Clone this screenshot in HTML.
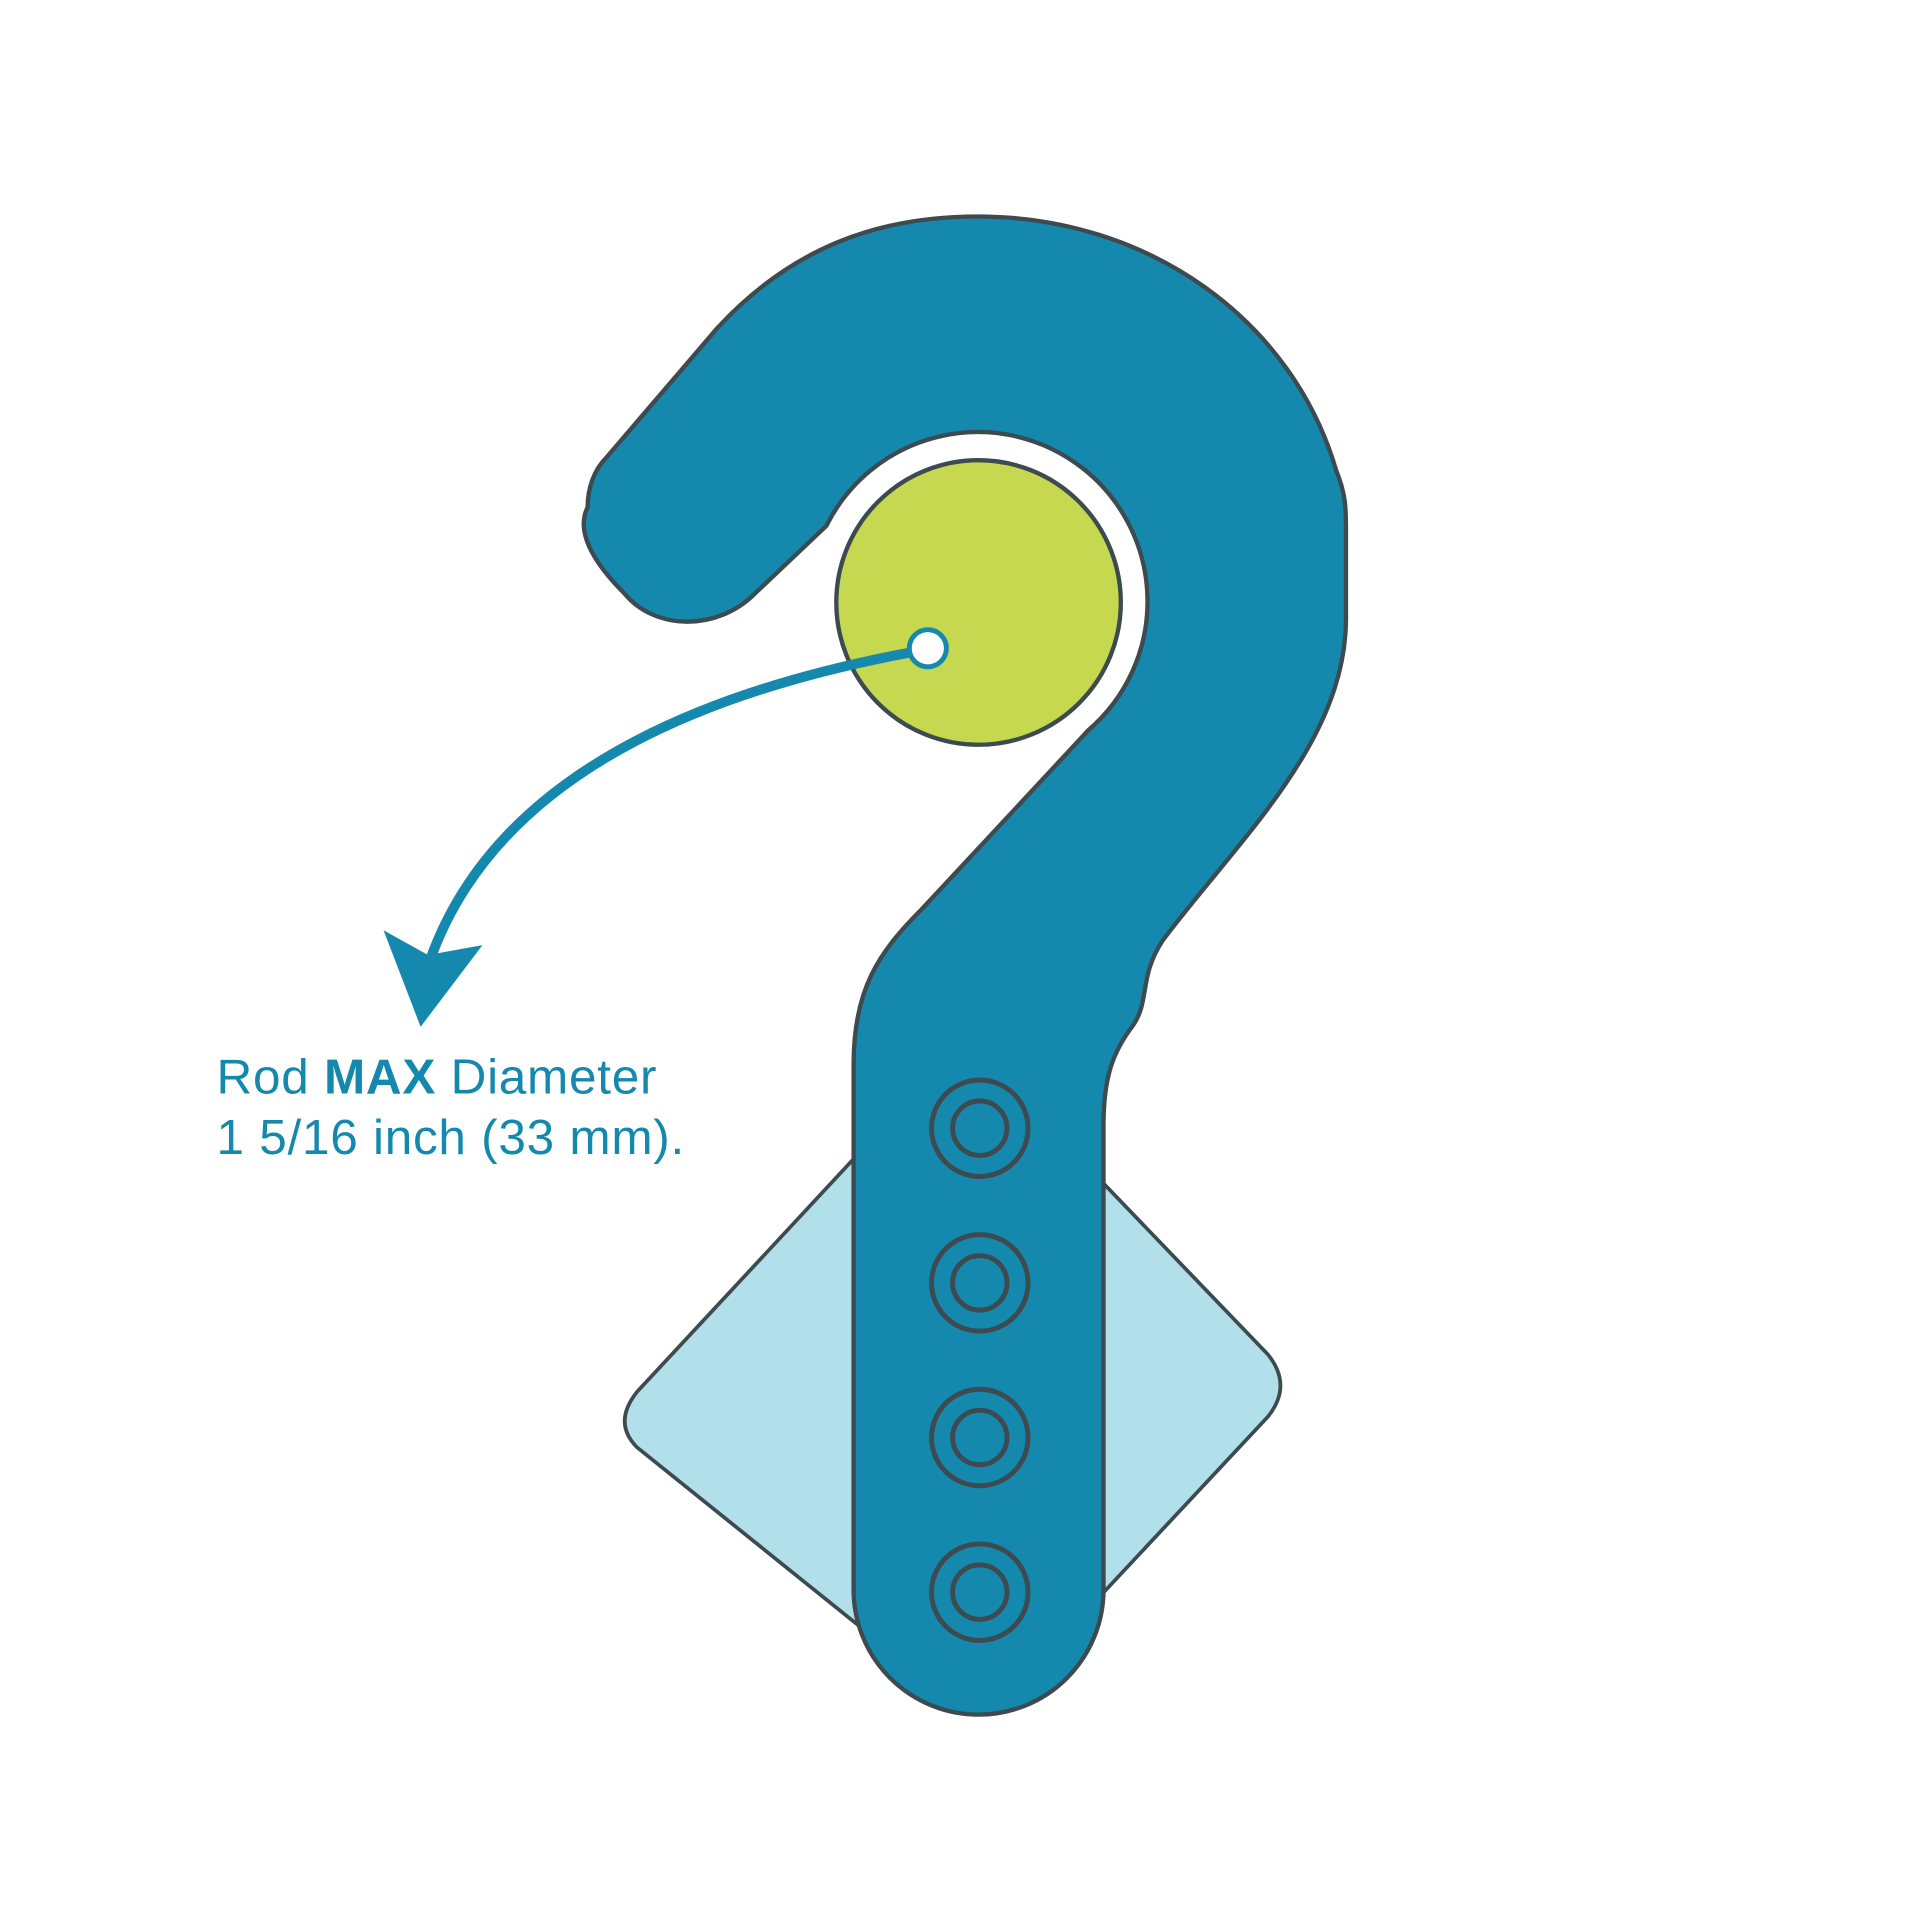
<!DOCTYPE html>
<html><head><meta charset="utf-8"><style>
html,body{margin:0;padding:0;background:#fff;}
svg{display:block;}
</style></head><body>
<svg width="1920" height="1920" viewBox="0 0 1552 1552" xmlns="http://www.w3.org/2000/svg">
<rect width="1552" height="1552" fill="#fff"/>
<path d="M 780 840 L 1025 1095 Q 1045 1120 1025 1145 L 810 1375 Q 790 1395 770 1375 L 515 1170 Q 495 1150 515 1125 Z" fill="#b2e0ea" stroke="#3d4a4f" stroke-width="3"/>
<path d="M 690 1285 L 690 860 C 690 800 710 770 745 735 L 880 590 A 137 137 0 1 0 668 425 L 610 480 C 580 510 530 510 505 480 C 480 455 465 430 475 410 C 475 395 480 380 490 370 L 580 265 C 640 200 710 175 790 175 C 930 175 1045 260 1080 380 C 1088 400 1088 410 1088 430 L 1088 500 C 1088 600 1000 680 940 760 C 920 790 930 810 915 830 C 900 850 892 870 892 910 L 892 1285 A 101 101 0 0 1 690 1285 Z" fill="#1589ad" stroke="#3d4a4f" stroke-width="3.5" stroke-linejoin="round"/>
<circle cx="791" cy="487" r="115" fill="#c5d84f" stroke="#3d4a4f" stroke-width="3.5"/>
<path d="M 738 527 C 560 560 400 630 348 775" fill="none" stroke="#1589ad" stroke-width="8"/>
<polygon points="310,752 346,772 390,764 340,830" fill="#1589ad"/>
<circle cx="750" cy="524" r="15" fill="#fff" stroke="#1589ad" stroke-width="4"/>
<g fill="none" stroke="#3d4a4f" stroke-width="4">
<circle cx="792" cy="912" r="39"/><circle cx="792" cy="912" r="22"/>
<circle cx="792" cy="1037" r="39"/><circle cx="792" cy="1037" r="22"/>
<circle cx="792" cy="1162" r="39"/><circle cx="792" cy="1162" r="22"/>
<circle cx="792" cy="1287" r="39"/><circle cx="792" cy="1287" r="22"/>
</g>
<text x="175" y="884" font-family="Liberation Sans, sans-serif" font-size="40" letter-spacing="0.6" fill="#1589ad">Rod <tspan font-weight="bold">MAX</tspan> Diameter</text>
<text x="175" y="933" font-family="Liberation Sans, sans-serif" font-size="40" letter-spacing="0.6" fill="#1589ad">1 5/16 inch (33 mm).</text>
</svg>
</body></html>
